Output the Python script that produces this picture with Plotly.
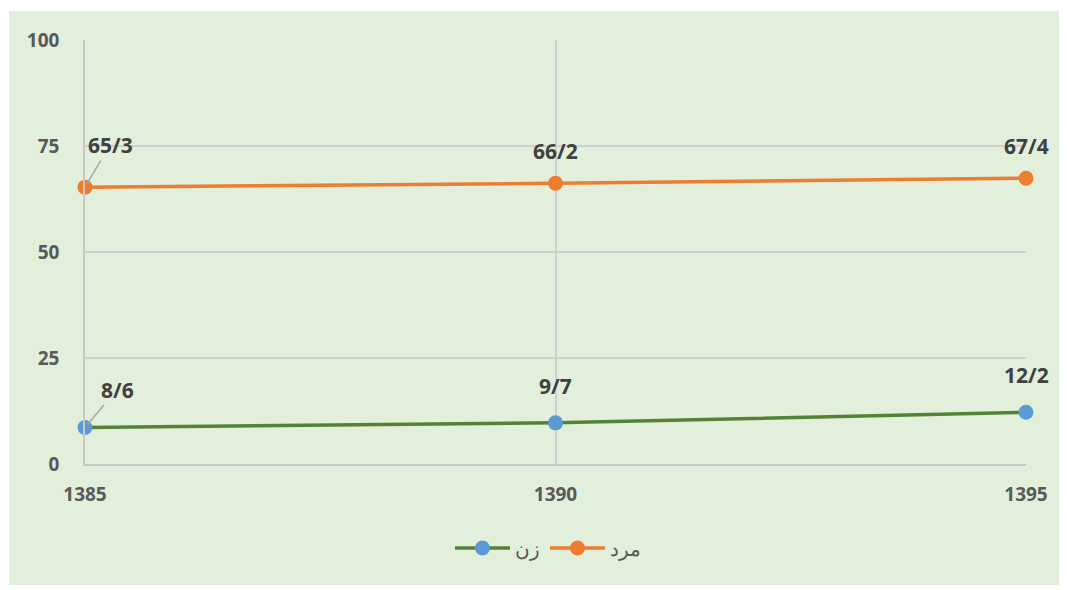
import plotly.graph_objects as go

years = [1385, 1390, 1395]
men = [65.3, 66.2, 67.4]
women = [8.6, 9.7, 12.2]
men_labels = ["65/3", "66/2", "67/4"]
women_labels = ["8/6", "9/7", "12/2"]
y_ticks = [0, 25, 50, 75, 100]
name_women = "زن"
name_men = "مرد"

GREEN_BG = "#E2EFDA"
TXT = "#595959"
LBL = "#404040"

fig = go.Figure()
fig.add_trace(go.Scatter(
    x=years, y=women, name=name_women, mode="lines+markers",
    line=dict(color="#548235", width=3.5),
    marker=dict(color="#5B9BD5", size=15),
    cliponaxis=False,
))
fig.add_trace(go.Scatter(
    x=years, y=men, name=name_men, mode="lines+markers",
    line=dict(color="#ED7D31", width=3.5),
    marker=dict(color="#ED7D31", size=15),
    cliponaxis=False,
))

annots = []
LFONT = dict(family="Open Sans", size=21, color=LBL, weight="bold")
def add_labels(vals, labels, first_offset, others_shift):
    for i, (x, y, t) in enumerate(zip(years, vals, labels)):
        if i == 0:
            annots.append(dict(
                x=x, y=y, text=t, showarrow=True, arrowhead=0, arrowwidth=1.5,
                arrowcolor="#A6A6A6", ax=first_offset[0], ay=first_offset[1],
                standoff=4, font=LFONT,
            ))
        else:
            annots.append(dict(
                x=x, y=y, text=t, showarrow=False, yshift=others_shift, font=LFONT,
            ))

add_labels(men, men_labels, (25, -42), 32)
add_labels(women, women_labels, (32, -38), 37)

fig.update_layout(
    width=1067, height=590,
    margin=dict(l=77, r=49, t=32, b=134),
    paper_bgcolor="white",
    plot_bgcolor=GREEN_BG,
    font=dict(family="Open Sans", color=TXT),
    showlegend=True,
    legend=dict(orientation="h", x=0.492, xanchor="center", y=-0.198, yanchor="middle",
                font=dict(size=20, color=TXT), bgcolor="rgba(0,0,0,0)", itemwidth=55),
    annotations=annots,
    shapes=[dict(type="rect", xref="paper", yref="paper",
                 x0=-0.0808, x1=1.0393, y0=-0.2854, y1=1.0684,
                 fillcolor=GREEN_BG, line=dict(width=0), layer="below")],
)
fig.update_xaxes(
    range=[1385, 1395], tickvals=years, showgrid=True, gridcolor="#D0D0D0", gridwidth=1.5,
    zeroline=False, showline=True, linecolor="#C8C8C8", linewidth=1.5,
    tickfont=dict(size=19, color=TXT, weight="bold"), ticks="", ticklabelstandoff=12,
)
fig.update_yaxes(
    range=[0, 100], tickvals=y_ticks, showgrid=True, gridcolor="#D0D0D0", gridwidth=1.5,
    zeroline=False, showline=True, linecolor="#C8C8C8", linewidth=1.5,
    tickfont=dict(size=19, color=TXT, weight="bold"), ticks="", ticklabelstandoff=20,
)

fig.write_html("out.html")
